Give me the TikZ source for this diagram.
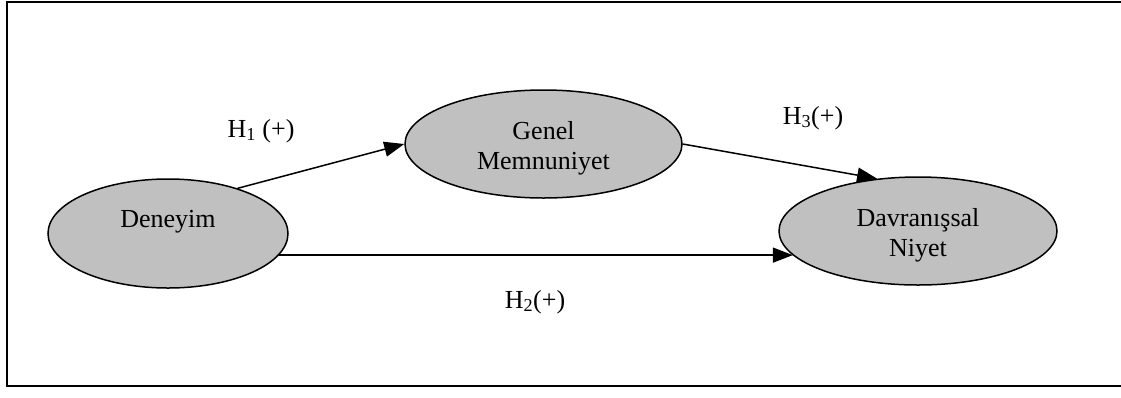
\documentclass[tikz,border=0pt]{standalone}
\usepackage{fontspec}
\setmainfont{Liberation Serif}
\usetikzlibrary{shapes.geometric,arrows.meta}
\definecolor{bubgray}{RGB}{192,192,192}
\begin{document}
\begin{tikzpicture}[x=1pt,y=-1pt,
  bub/.style={ellipse, draw, line width=1.5pt, fill=bubgray, inner sep=0pt},
  txt/.style={font=\fontsize{26}{30}\selectfont, inner sep=0pt, align=center, anchor=north},
  lab/.style={font=\fontsize{26}{30}\selectfont, inner sep=0pt, anchor=base},
  arr/.style={line width=1.5pt, -{Triangle[length=20pt,width=15pt]}}]
\useasboundingbox (0,0) rectangle (1121,397);
\draw[line width=2pt] (6.5,1.5) rectangle (1130,385.5);
\node[bub, minimum width=240pt, minimum height=109pt] (den) at (168,233.5) {};
\node[bub, minimum width=277pt, minimum height=108pt] (gen) at (543.5,144) {};
\node[bub, minimum width=278pt, minimum height=108pt] (niy) at (918,231) {};
\node[txt] (den-t) at (168,210.5) {Deneyim};
\node[txt] (gen-t) at (543.5,121) {Genel\\Memnuniyet};
\node[txt] (niy-t) at (918,208) {Davranışsal\\Niyet};
\draw[arr] (den.33) -- (gen.west);
\draw[arr] (gen.east) -- (niy.128);
\draw[arr] (den.-11.7) -- (den.-11.7 -| niy.191.5);
\node[lab] (h1) at (261,137) {H\textsubscript{1} (+)};
\node[lab] (h3) at (813,124) {H\textsubscript{3}(+)};
\node[lab] (h2) at (535,308) {H\textsubscript{2}(+)};
\end{tikzpicture}
\end{document}
